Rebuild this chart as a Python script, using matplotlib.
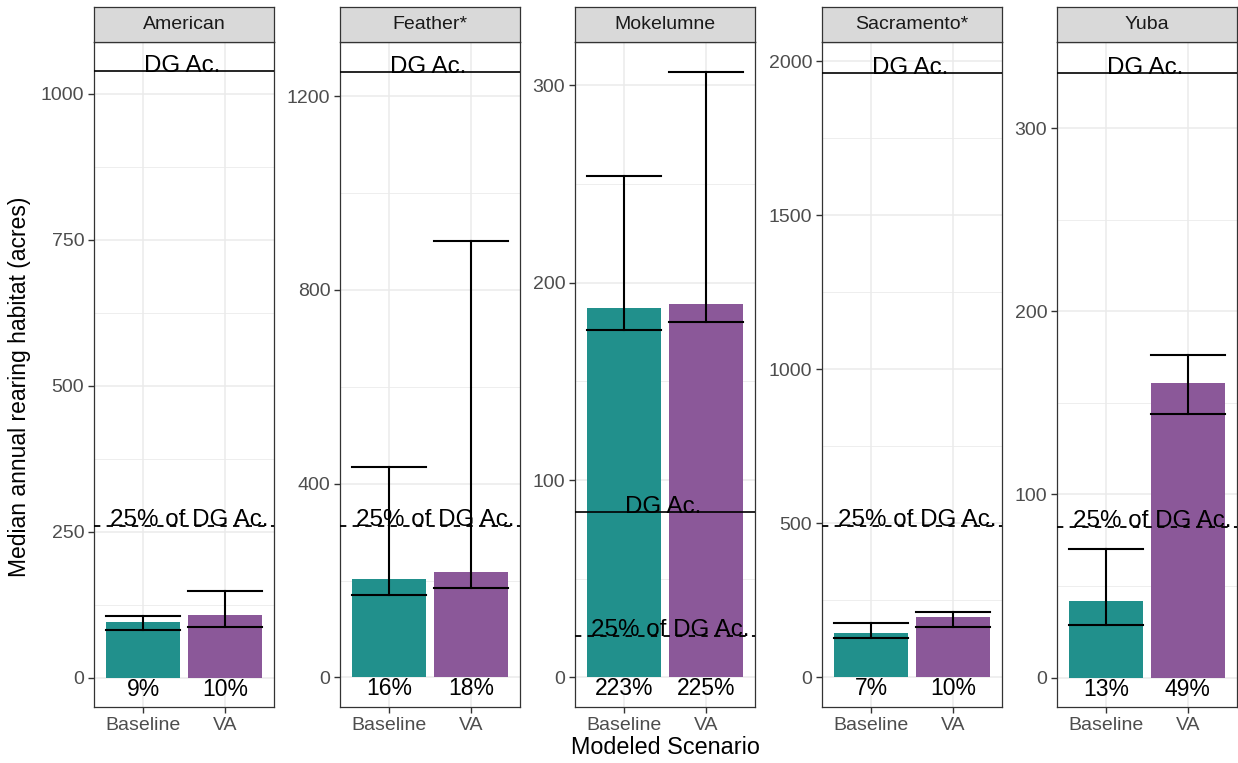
import matplotlib
matplotlib.use("Agg")
import matplotlib.pyplot as plt

plt.rcParams['font.family'] = ['Liberation Sans', 'DejaVu Sans']

rivers = ["American", "Feather*", "Mokelumne", "Sacramento*", "Yuba"]
scenarios = ["Baseline", "VA"]

# median annual rearing habitat (acres), per river: [Baseline, VA]
median_acres = [[95, 107], [203, 218], [187, 189], [142, 194], [42, 161]]
err_low = [[82, 87], [170, 185], [176, 180], [127, 162], [29, 144]]
err_high = [[106, 148], [435, 901], [254, 307], [175, 212], [70, 176]]
pct_labels = [["9%", "10%"], ["16%", "18%"], ["223%", "225%"], ["7%", "10%"], ["13%", "49%"]]

dg_acres = [1040, 1250, 84, 1960, 330]

# axis settings per panel
y_limits = [(-50, 1089), (-61, 1312), (-15, 322), (-97, 2062), (-16, 347)]
y_ticks = [[0, 250, 500, 750, 1000], [0, 400, 800, 1200], [0, 100, 200, 300],
           [0, 500, 1000, 1500, 2000], [0, 100, 200, 300]]

colors = ["#21908C", "#8B5899"]

W, H = 1238, 763
fig = plt.figure(figsize=(W / 100, H / 100), dpi=100)
panel_left = [94, 340, 575, 822, 1057]
panel_w = 180
top_px, bottom_px, strip_top = 42, 707, 7

for i, river in enumerate(rivers):
    ax = fig.add_axes([panel_left[i] / W, 1 - bottom_px / H, panel_w / W, (bottom_px - top_px) / H])
    x = [1, 2]
    ax.bar(x, median_acres[i], width=0.9, color=colors, zorder=2)
    for j in range(2):
        ax.plot([x[j], x[j]], [err_low[i][j], err_high[i][j]], color="black", lw=1.5, zorder=3)
        for yv in (err_low[i][j], err_high[i][j]):
            ax.plot([x[j] - 0.45, x[j] + 0.45], [yv, yv], color="black", lw=1.5, zorder=3)
        ax.text(x[j], 0, pct_labels[i][j], ha="center", va="top", fontsize=16.5, zorder=4)

    dg = dg_acres[i]
    ax.axhline(dg, color="black", lw=1.2, zorder=3)
    ax.axhline(dg * 0.25, color="black", lw=1.3, ls=(0, (3.5, 3.5)), zorder=3)
    ax.annotate("DG Ac.", (1.5, dg), xytext=(-2, -1), textcoords="offset pixels",
                ha="center", va="baseline", fontsize=17.4, zorder=4)
    ax.annotate("25% of DG Ac.", (1.5, dg * 0.25), xytext=(5, 0), textcoords="offset pixels",
                ha="center", va="baseline", fontsize=17.4, zorder=4)

    ax.set_xlim(0.4, 2.6)
    ax.set_ylim(*y_limits[i])
    ax.set_xticks(x)
    ax.set_xticklabels(scenarios)
    ax.set_yticks(y_ticks[i])
    t = y_ticks[i]
    step = t[1] - t[0]
    minors = [v + step / 2 for v in t] + [t[0] - step / 2]
    ax.set_yticks([m for m in minors if y_limits[i][0] < m < y_limits[i][1]], minor=True)
    ax.grid(True, which="major", color="#EBEBEB", lw=1.1, zorder=0)
    ax.grid(True, which="minor", axis="y", color="#EBEBEB", lw=0.6, zorder=0)
    ax.set_axisbelow(True)
    ax.tick_params(which="major", length=4, width=1.0, color="#333333", labelsize=14,
                   labelcolor="#4D4D4D", pad=3)
    ax.tick_params(which="minor", length=0)
    for s in ax.spines.values():
        s.set_color("#333333")
        s.set_linewidth(0.9)

    sax = fig.add_axes([panel_left[i] / W, 1 - top_px / H, panel_w / W, (top_px - strip_top) / H])
    sax.set_xticks([])
    sax.set_yticks([])
    sax.set_facecolor("#D9D9D9")
    for s in sax.spines.values():
        s.set_color("#333333")
        s.set_linewidth(0.9)
    sax.text(0.5, 0.5, river, ha="center", va="center", fontsize=14, color="#1A1A1A",
             transform=sax.transAxes)

fig.text(20 / W, 1 - 387 / H, "Median annual rearing habitat (acres)", rotation=90,
         ha="center", va="center", fontsize=16.5)
fig.text(665 / W, 1 - 748 / H, "Modeled Scenario", ha="center", va="center", fontsize=16.8)

fig.savefig("out.png", dpi=100)
